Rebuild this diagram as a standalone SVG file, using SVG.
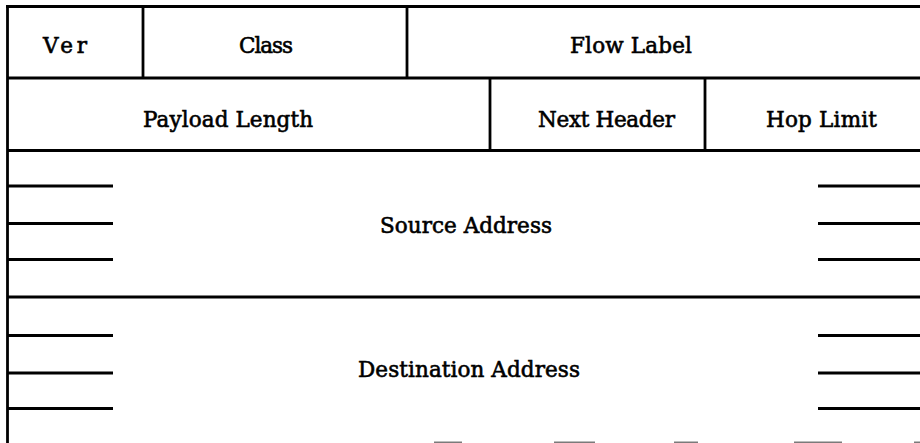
<svg xmlns="http://www.w3.org/2000/svg" width="920" height="443" viewBox="0 0 920 443">
<style>
.ln{stroke:#000;stroke-width:2.8;fill:none;stroke-linecap:butt}
.tk{stroke:#000;stroke-width:2.8;fill:none}
.ds{stroke:#7a7a7a;stroke-width:2;fill:none}
.t{font-family:"DejaVu Serif","Liberation Serif",serif;font-size:21.5px;fill:#000;stroke:#000;stroke-width:0.6}
</style>
<rect x="0" y="0" width="920" height="443" fill="#fff"/>
<g id="grid">
<line class="ln" x1="7.5" y1="5.5" x2="7.5" y2="443"/>
<line class="ln" x1="6" y1="6.5" x2="920" y2="6.5"/>
<line class="ln" x1="7" y1="78" x2="920" y2="78"/>
<line class="ln" x1="7" y1="150.5" x2="920" y2="150.5"/>
<line class="ln" x1="7" y1="297" x2="920" y2="297"/>
<line class="ln" x1="143" y1="6" x2="143" y2="78"/>
<line class="ln" x1="407" y1="6" x2="407" y2="78"/>
<line class="ln" x1="490" y1="78" x2="490" y2="150"/>
<line class="ln" x1="705" y1="78" x2="705" y2="150"/>
</g>
<g id="ticks">
<line class="tk" x1="7" y1="186" x2="113" y2="186"/>
<line class="tk" x1="7" y1="223.5" x2="113" y2="223.5"/>
<line class="tk" x1="7" y1="259.5" x2="113" y2="259.5"/>
<line class="tk" x1="7" y1="335.5" x2="113" y2="335.5"/>
<line class="tk" x1="7" y1="373" x2="113" y2="373"/>
<line class="tk" x1="7" y1="408.5" x2="113" y2="408.5"/>
<line class="tk" x1="818" y1="186" x2="920" y2="186"/>
<line class="tk" x1="818" y1="223.5" x2="920" y2="223.5"/>
<line class="tk" x1="818" y1="259.5" x2="920" y2="259.5"/>
<line class="tk" x1="818" y1="335.5" x2="920" y2="335.5"/>
<line class="tk" x1="818" y1="373" x2="920" y2="373"/>
<line class="tk" x1="818" y1="408.5" x2="920" y2="408.5"/>
</g>
<g id="bottom-dashes">
<line class="ds" x1="434" y1="442.5" x2="462" y2="442.5"/>
<line class="ds" x1="554" y1="442.5" x2="595" y2="442.5"/>
<line class="ds" x1="674" y1="442.5" x2="698" y2="442.5"/>
<line class="ds" x1="794" y1="442.5" x2="842" y2="442.5"/>
<line class="ds" x1="914" y1="442.5" x2="920" y2="442.5"/>
</g>
<g id="ver"><text class="t" x="43" y="53" textLength="44" lengthAdjust="spacing">Ver</text></g>
<g id="class"><text class="t" x="239" y="53" textLength="54" lengthAdjust="spacing">Class</text></g>
<g id="flow-label"><text class="t" x="570" y="53" textLength="122" lengthAdjust="spacing">Flow Label</text></g>
<g id="payload-length"><text class="t" x="143" y="127" textLength="170" lengthAdjust="spacing">Payload Length</text></g>
<g id="next-header"><text class="t" x="538" y="127" textLength="137" lengthAdjust="spacing">Next Header</text></g>
<g id="hop-limit"><text class="t" x="766" y="127" textLength="111" lengthAdjust="spacing">Hop Limit</text></g>
<g id="source-address"><text class="t" x="380" y="233" textLength="172" lengthAdjust="spacing">Source Address</text></g>
<g id="destination-address"><text class="t" x="358" y="377" textLength="222" lengthAdjust="spacing">Destination Address</text></g>
</svg>
